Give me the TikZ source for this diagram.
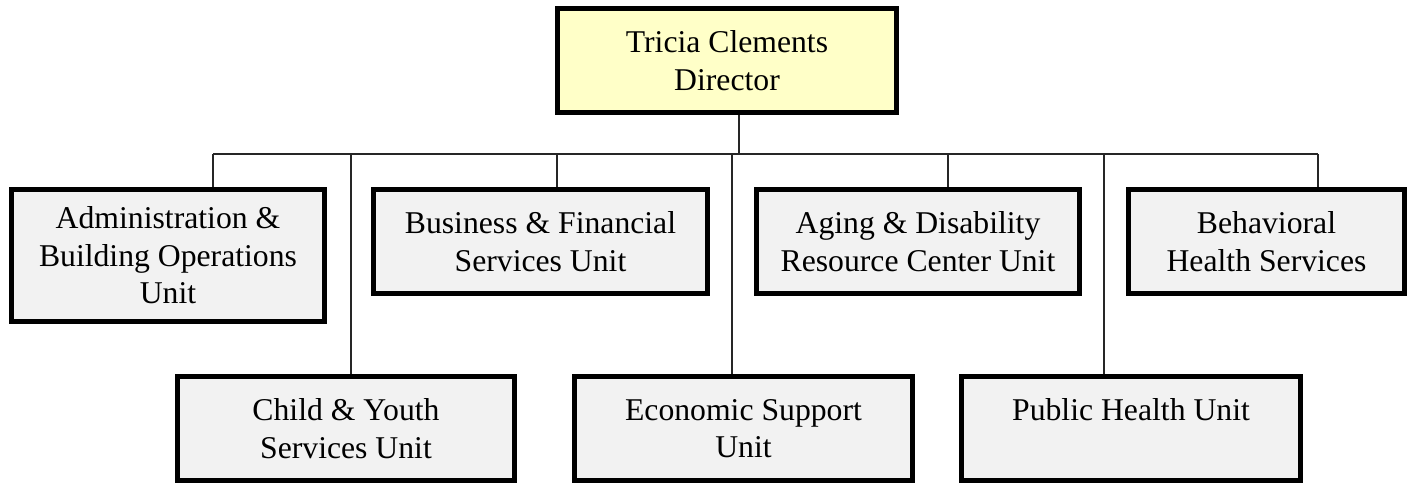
\documentclass[tikz,border=0pt]{standalone}
\usepackage{fontspec}
\setmainfont{Liberation Serif}
\definecolor{diryellow}{HTML}{FFFFC8}
\definecolor{unitgray}{HTML}{F2F2F2}
\begin{document}
\begin{tikzpicture}[x=0.5pt,y=-0.5pt,
  unitbox/.style={draw=black, line width=2.5pt, fill=unitgray, inner sep=0pt,
    align=center, font={\fontsize{15.85pt}{18.75pt}\selectfont}},
  dirbox/.style={unitbox, fill=diryellow},
  conn/.style={draw=black!85, line width=0.65pt}]
\useasboundingbox (0,0) rectangle (1412,483);
% boxes
\node[dirbox, minimum width=169.5pt, minimum height=52pt] (dir) at (727,60.5) {Tricia Clements\\Director};
\node[unitbox, minimum width=156.5pt, minimum height=66pt] (admin) at (168,255.5) {Administration \&\\Building Operations\\Unit};
\node[unitbox, minimum width=167pt, minimum height=52pt] (busi) at (540.5,241.5) {Business \& Financial\\Services Unit};
\node[unitbox, minimum width=161.5pt, minimum height=52pt] (aging) at (918,241.5) {Aging \& Disability\\Resource Center Unit};
\node[unitbox, minimum width=138pt, minimum height=52pt] (behav) at (1266.5,241.5) {Behavioral\\Health Services};
\node[unitbox, minimum width=168.5pt, minimum height=52pt] (child) at (346,428.5) {Child \& Youth\\Services Unit};
\node[unitbox, minimum width=169pt, minimum height=52pt] (econ) at (743.5,428.5) {Economic Support\\Unit};
\node[unitbox, minimum width=169.5pt, minimum height=52pt] (pub) at (1131,428.5) {Public Health Unit\\\mbox{}};
% bus junctions
\coordinate (jdir) at (739,154);
\coordinate (ja) at (213,154);
\coordinate (jb) at (351,154);
\coordinate (jc) at (557,154);
\coordinate (jd) at (732,154);
\coordinate (je) at (948,154);
\coordinate (jf) at (1104,154);
\coordinate (jg) at (1318,154);
% connectors
\draw[conn] (dir.south -| jdir) -- (jdir);
\draw[conn] (ja) -- (jg);
\draw[conn] (ja) -- (ja |- admin.north);
\draw[conn] (jb) -- (jb |- child.north);
\draw[conn] (jc) -- (jc |- busi.north);
\draw[conn] (jd) -- (jd |- econ.north);
\draw[conn] (je) -- (je |- aging.north);
\draw[conn] (jf) -- (jf |- pub.north);
\draw[conn] (jg) -- (jg |- behav.north);
\end{tikzpicture}
\end{document}
